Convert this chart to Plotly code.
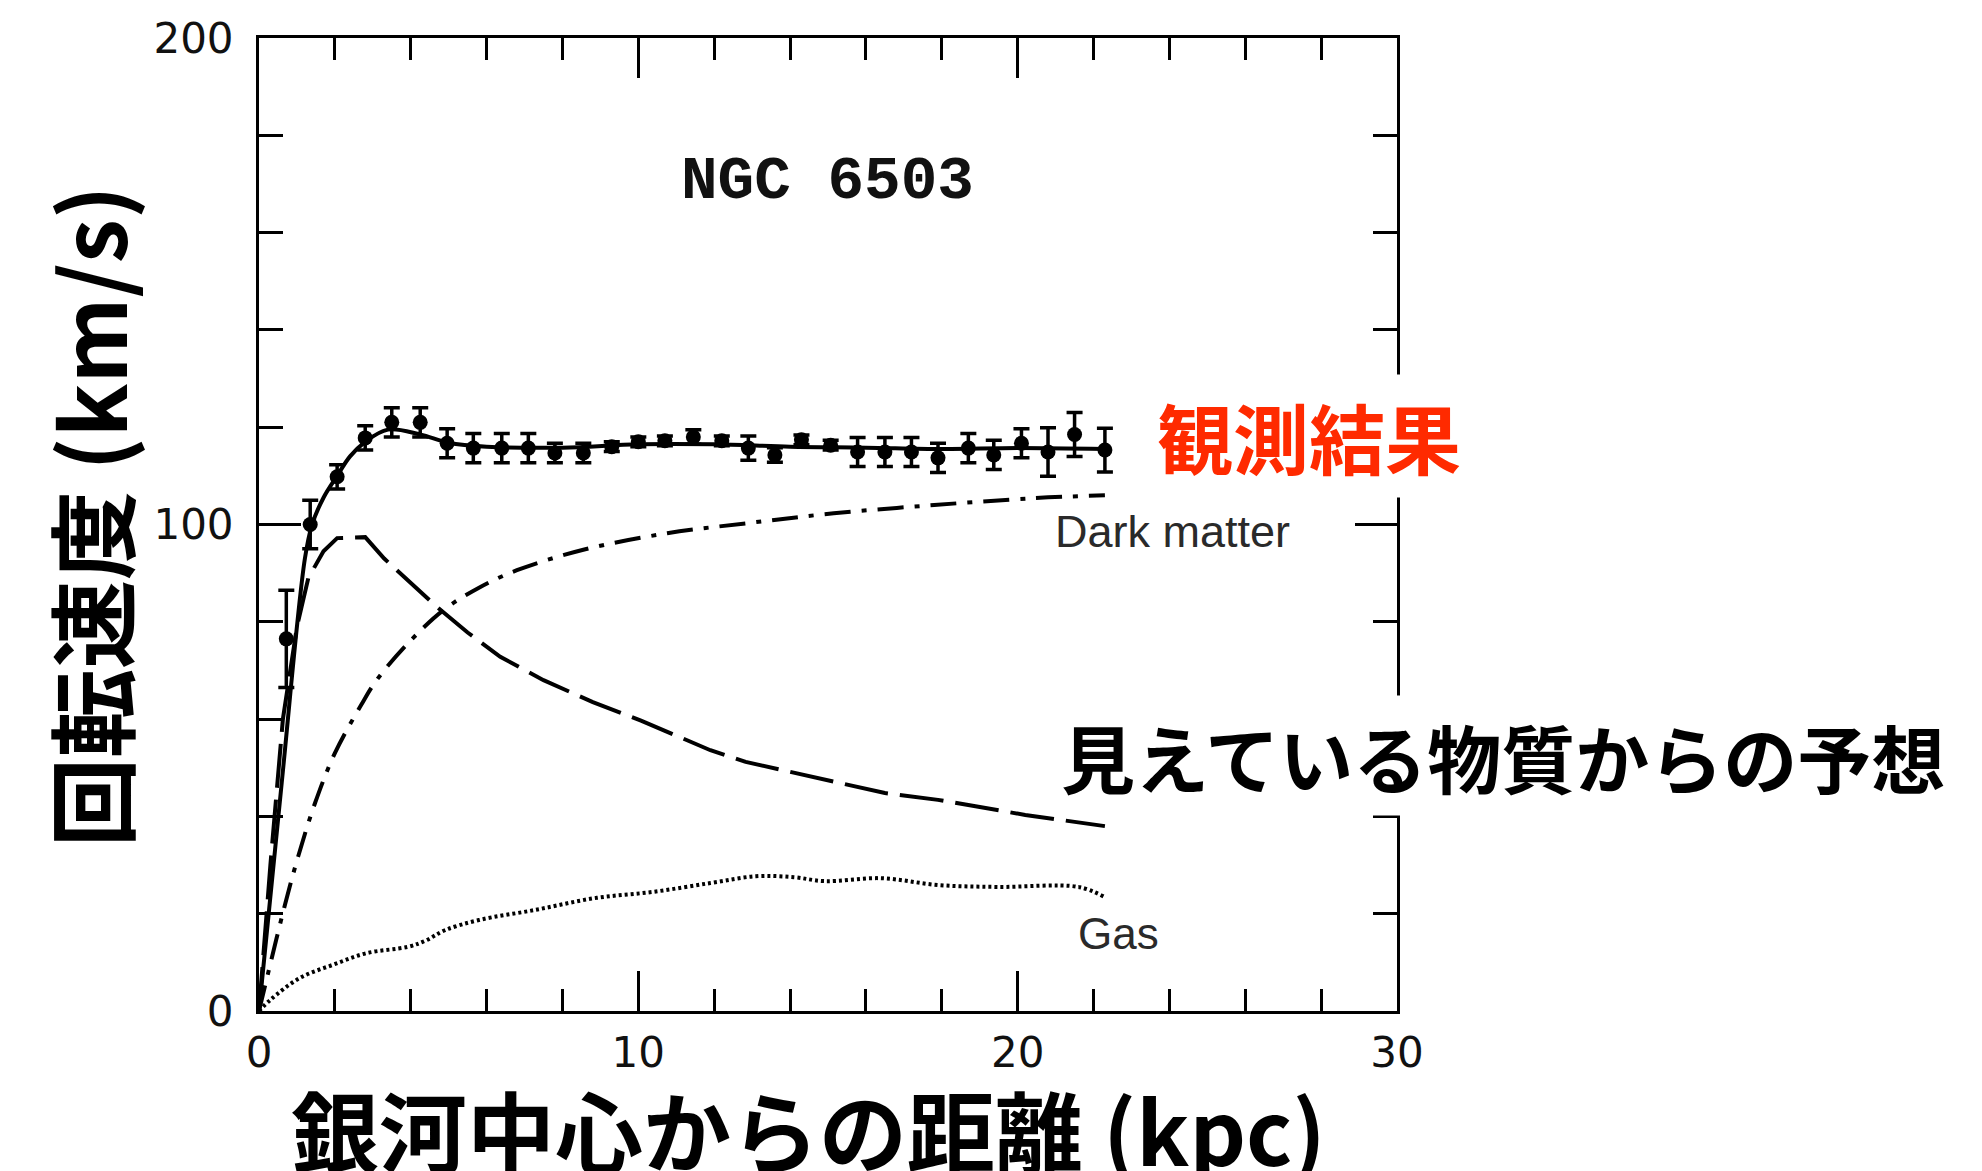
import plotly.graph_objects as go

# ---------------- data ----------------
obs_r = [0.72, 1.35, 2.06, 2.8, 3.5, 4.25, 4.96, 5.65, 6.4, 7.1, 7.8, 8.55, 9.3, 10.0,
         10.7, 11.45, 12.2, 12.9, 13.6, 14.3, 15.07, 15.78, 16.5, 17.2, 17.9, 18.7,
         19.37, 20.1, 20.8, 21.5, 22.3]
obs_v = [76.5, 100.0, 109.8, 117.8, 121.0, 121.0, 116.7, 115.7, 115.7, 115.7, 114.7,
         114.7, 116.0, 117.0, 117.2, 118.0, 117.2, 115.7, 114.3, 117.4, 116.3, 114.9,
         114.9, 114.9, 113.7, 115.7, 114.3, 116.7, 114.9, 118.5, 115.3]
obs_err = [10, 5, 2.5, 2.5, 3, 3, 3, 3, 3, 3, 2, 2, 1, 1, 1, 1.5, 1, 2.5, 1.5, 1, 1,
           3, 3, 3, 3, 3, 3, 3, 5, 4.5, 4.5]

fit_r = [0, 0.6, 1.21, 1.4, 1.7, 2.06, 2.4, 2.8, 3.4, 4.25, 5.0, 6.0, 8.0, 10.0, 12.0,
         14.0, 16.0, 18.0, 20.0, 22.3]
fit_v = [0, 47, 93, 100, 105.5, 110, 114, 117, 119.5, 118.5, 116.8, 116.0, 115.8,
         116.5, 116.5, 116.0, 115.8, 115.5, 115.7, 115.5]

vis_r = [0, 0.3, 0.63, 1.0, 1.3, 1.7, 2.06, 2.8, 3.3, 4.0, 4.7, 5.5, 6.36, 7.5, 8.8,
         10.07, 11.9, 12.83, 14.6, 16.5, 17.9, 20.2, 22.3]
vis_v = [0, 30, 60, 79, 89, 94.5, 97.2, 97.4, 93.0, 88.0, 83.0, 77.8, 72.8, 68.0, 63.5,
         59.7, 53.6, 51.2, 48.1, 44.8, 43.4, 40.3, 38.0]

dm_r = [0, 0.34, 0.69, 1.03, 1.48, 2.0, 2.7, 3.1, 3.93, 4.86, 5.8, 6.8, 8.55, 10.76,
        12.9, 15.15, 17.8, 20.4, 22.3]
dm_v = [0, 11, 22, 31.7, 42.8, 53, 63, 68.0, 75.6, 82.4, 87.0, 90.6, 94.8, 98.2, 100.3,
        102.3, 104.0, 105.4, 106.0]

gas_r = [0, 0.3, 1.08, 1.95, 2.84, 3.93, 4.4, 4.9, 5.8, 7.3, 8.85, 10.4, 11.9, 13.1,
         14.1, 14.9, 16.4, 17.9, 19.45, 21.6, 22.3]
gas_v = [0, 2.3, 6.8, 9.5, 11.9, 13.2, 14.5, 16.6, 18.7, 20.8, 23.2, 24.5, 26.3, 27.7,
         27.5, 26.7, 27.3, 25.9, 25.5, 25.5, 23.4]

x_ticks = [0, 10, 20, 30]
y_ticks = [0, 100, 200]

title_x = "銀河中心からの距離 (kpc)"
title_y = "回転速度 (km/s)"
galaxy = "NGC 6503"
label_obs = "観測結果"
label_vis = "見えている物質からの予想"
label_dm = "Dark matter"
label_gas = "Gas"

# ---------------- figure ----------------
fig = go.Figure()

fig.add_trace(go.Scatter(x=gas_r, y=gas_v, mode="lines", line_shape="spline",
                         line=dict(color="black", width=4, dash="3px,3px"),
                         hoverinfo="skip"))
fig.add_trace(go.Scatter(x=dm_r, y=dm_v, mode="lines", line_shape="spline",
                         line=dict(color="black", width=4, dash="26px,11px,5px,11px"),
                         hoverinfo="skip"))
fig.add_trace(go.Scatter(x=vis_r, y=vis_v, mode="lines",
                         line=dict(color="black", width=4, dash="44px,12px"),
                         hoverinfo="skip"))
fig.add_trace(go.Scatter(x=fit_r, y=fit_v, mode="lines", line_shape="spline",
                         line=dict(color="black", width=4),
                         hoverinfo="skip"))
fig.add_trace(go.Scatter(x=obs_r, y=obs_v, mode="markers",
                         marker=dict(color="black", size=15, symbol="circle"),
                         error_y=dict(type="data", array=obs_err, visible=True,
                                      color="black", thickness=3.5, width=8)))

axis_common = dict(
    showline=True, linewidth=3, linecolor="black", mirror="allticks",
    ticks="inside", tickwidth=3, tickcolor="black",
    showgrid=False, zeroline=False, fixedrange=True,
    tickfont=dict(family="DejaVu Sans", size=42, color="#111"),
)

fig.update_xaxes(range=[0, 30], tickmode="array", tickvals=x_ticks,
                 ticktext=[str(v) for v in x_ticks], ticklen=40,
                 ticklabelstandoff=3,
                 minor=dict(dtick=2, tick0=0, ticks="inside", ticklen=22,
                            tickwidth=3, tickcolor="black", showgrid=False),
                 **axis_common)
fig.update_yaxes(range=[0, 200], tickmode="array", tickvals=y_ticks,
                 ticktext=[str(v) for v in y_ticks], ticklen=42,
                 ticklabelstandoff=14,
                 minor=dict(dtick=20, tick0=0, ticks="inside", ticklen=24,
                            tickwidth=3, tickcolor="black", showgrid=False),
                 **axis_common)

cjk = "Noto Sans CJK JP"
annotations = [
    dict(text=f"<b>{title_x}</b>", x=808, y=1127, font=dict(family=cjk, size=88, color="black")),
    dict(text=f"<b>{title_y}</b>", x=88, y=516, textangle=-90,
         font=dict(family=cjk, size=89, color="black")),
    dict(text=f"<b>{galaxy}</b>", x=827, y=181,
         font=dict(family="Liberation Mono", size=61, color="#111")),
    dict(text=f"<b>{label_obs}</b>", x=1309, y=436, bgcolor="white", borderpad=6,
         font=dict(family=cjk, size=76, color="#ff2a00")),
    dict(text=f"<b>{label_vis}</b>", x=1503, y=755, bgcolor="white", borderpad=6,
         font=dict(family=cjk, size=74, color="black")),
    dict(text=label_dm, x=1172, y=531,
         font=dict(family="Liberation Sans", size=45, color="#2a2a2a")),
    dict(text=label_gas, x=1118, y=933,
         font=dict(family="Liberation Sans", size=44, color="#2a2a2a")),
]
for a in annotations:
    a.update(xref="paper", yref="paper", showarrow=False,
             xanchor="center", yanchor="middle")
    a["x"] = (a["x"] - 259) / (1397 - 259)
    a["y"] = (1011 - a["y"]) / (1011 - 38)
fig.update_layout(annotations=annotations)

fig.update_layout(
    width=1982, height=1171,
    margin=dict(l=259, r=1982 - 1397, t=38, b=1171 - 1011, pad=0),
    paper_bgcolor="white", plot_bgcolor="white",
    showlegend=False,
)

fig.write_html("out.html", config={"displayModeBar": False},
               post_script="document.body.style.margin='0';document.body.style.overflow='hidden';")
